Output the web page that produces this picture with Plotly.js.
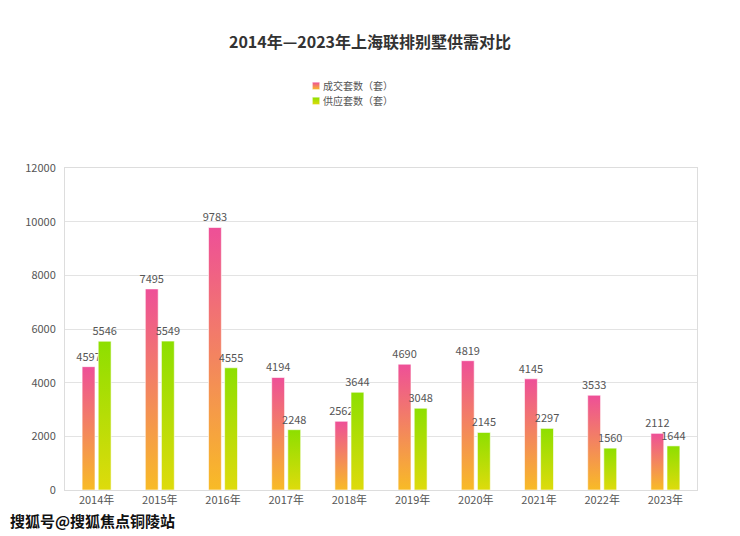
<!DOCTYPE html>
<html>
<head>
<meta charset="utf-8">
<script src="https://cdn.plot.ly/plotly-3.0.1.min.js"></script>
<style>
  body { margin: 0; background: #fff; }
  #chart { width: 740px; height: 536px; }
</style>
</head>
<body>
<div id="chart"></div>
<script>
var years = ['2014年', '2015年', '2016年', '2017年', '2018年', '2019年', '2020年', '2021年', '2022年', '2023年'];
var dealCount = [4597, 7495, 9783, 4194, 2562, 4690, 4819, 4145, 3533, 2112];
var supplyCount = [5546, 5549, 4555, 2248, 3644, 3048, 2145, 2297, 1560, 1644];
var seriesNames = ['成交套数（套）', '供应套数（套）'];

var baseFont = '"Noto Sans CJK SC", "Microsoft YaHei", sans-serif';

// gradient stops, top -> bottom
var gradients = {
  gradDeal: ['#ee4f98', '#f8bb26'],
  gradSupply: ['#8ddf00', '#dedb0c']
};

function barTrace(name, values, color) {
  return {
    type: 'bar',
    name: name,
    x: years,
    y: values,
    text: values.map(String),
    textposition: 'outside',
    constraintext: 'none',
    cliponaxis: false,
    textfont: { family: baseFont, size: 11, color: '#555' },
    marker: { color: color, line: { color: 'rgba(255,255,255,0.6)', width: 1 } },
    hoverinfo: 'x+y+name'
  };
}

var data = [
  barTrace(seriesNames[0], dealCount, '#f48a7a'),
  barTrace(seriesNames[1], supplyCount, '#b8dd06')
];

var layout = {
  width: 740,
  height: 536,
  margin: { l: 65, r: 43, t: 168, b: 46 },
  paper_bgcolor: '#fff',
  plot_bgcolor: '#fff',
  font: { family: baseFont, size: 11, color: '#555' },
  title: {
    text: '<b>2014年—2023年上海联排别墅供需对比</b>',
    font: { family: baseFont, size: 16, color: '#333' },
    x: 0.5, xanchor: 'center',
    y: 0.92, yanchor: 'middle'
  },
  barmode: 'group',
  bargap: 0.49,
  bargroupgap: 0.2,
  showlegend: true,
  legend: {
    orientation: 'v',
    x: 0.345, xanchor: 'left',
    y: 1.3, yanchor: 'top',
    font: { family: baseFont, size: 10, color: '#555' },
    itemwidth: 30,
    tracegroupgap: 0,
    bgcolor: 'rgba(0,0,0,0)'
  },
  xaxis: {
    type: 'category',
    showgrid: false,
    showline: true,
    linecolor: '#ddd',
    linewidth: 1,
    mirror: true,
    ticks: '',
    tickfont: { family: baseFont, size: 11, color: '#555' }
  },
  yaxis: {
    range: [0, 12000],
    dtick: 2000,
    tickformat: 'd',
    showgrid: true,
    gridcolor: '#e3e3e3',
    zeroline: false,
    showline: true,
    linecolor: '#ddd',
    mirror: true,
    ticks: '',
    ticklabelstandoff: 6,
    tickfont: { family: baseFont, size: 11, color: '#555' }
  },
  annotations: [{
    xref: 'paper', yref: 'paper',
    x: -0.09, y: -0.095,
    xanchor: 'left', yanchor: 'middle',
    text: '<b>搜狐号@搜狐焦点铜陵站</b>',
    showarrow: false,
    font: { family: baseFont, size: 15, color: '#111', shadow: '1px 1px 1px #fff, -1px -1px 1px #fff' }
  }]
};

var config = { staticPlot: true };

var gd = document.getElementById('chart');

// paint the bars with vertical gradients once plotly has drawn them
function applyGradients() {
  var svg = gd.querySelector('svg.main-svg');
  var ns = 'http://www.w3.org/2000/svg';
  var defs = document.createElementNS(ns, 'defs');
  Object.keys(gradients).forEach(function(id) {
    var lg = document.createElementNS(ns, 'linearGradient');
    lg.setAttribute('id', id);
    lg.setAttribute('x1', '0'); lg.setAttribute('y1', '0');
    lg.setAttribute('x2', '0'); lg.setAttribute('y2', '1');
    gradients[id].forEach(function(c, i) {
      var stop = document.createElementNS(ns, 'stop');
      stop.setAttribute('offset', i === 0 ? '0' : '1');
      stop.setAttribute('stop-color', c);
      lg.appendChild(stop);
    });
    defs.appendChild(lg);
  });
  svg.insertBefore(defs, svg.firstChild);

  var ids = Object.keys(gradients);
  gd.querySelectorAll('.barlayer .trace.bars').forEach(function(tr, i) {
    tr.querySelectorAll('path').forEach(function(p) {
      p.style.fill = 'url(#' + ids[i] + ')';
    });
  });

  // smaller legend squares sitting close to their text, tighter rows
  var firstY = null;
  gd.querySelectorAll('.legend .traces').forEach(function(tr, i) {
    var m = /translate\(([-\d.]+),\s*([-\d.]+)\)/.exec(tr.getAttribute('transform') || '');
    if (m) {
      if (firstY === null) firstY = parseFloat(m[2]);
      tr.setAttribute('transform', 'translate(' + m[1] + ',' + (firstY + i * 15) + ')');
    }
    tr.querySelectorAll('.legendpoints path').forEach(function(p) {
      p.style.fill = 'url(#' + ids[i] + ')';
      p.setAttribute('transform', 'translate(33,0) scale(0.6)');
    });
  });
}

Plotly.newPlot(gd, data, layout, config).then(applyGradients);
</script>
</body>
</html>
